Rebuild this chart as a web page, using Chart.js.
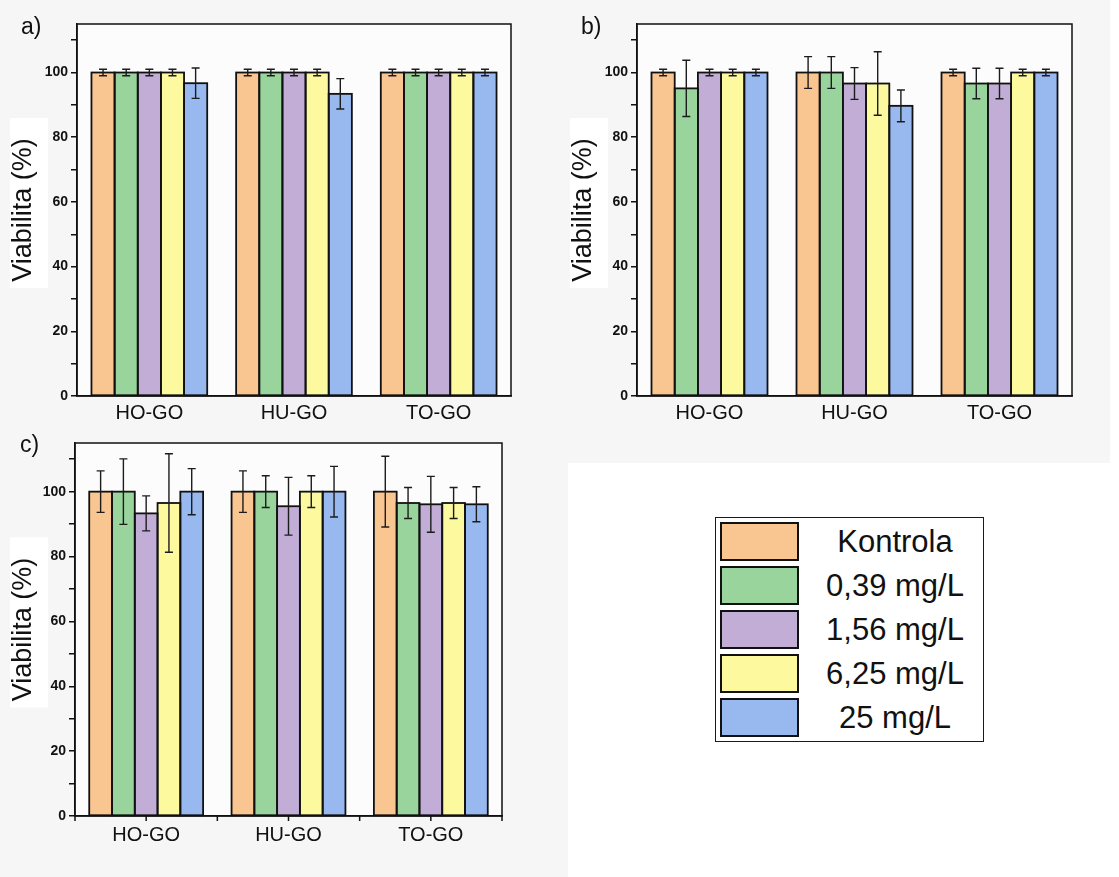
<!DOCTYPE html>
<html lang="cs">
<head>
<meta charset="UTF-8">
<title>Viabilita buněk – HO-GO, HU-GO, TO-GO</title>
<script src="https://cdn.jsdelivr.net/npm/chart.js"></script>
<style>
  body { margin: 0; background: #fff; font-family: "Liberation Sans", Arial, sans-serif; }
  #page { position: relative; width: 1119px; height: 877px; overflow: hidden; }
  .panel { position: absolute; }
  .panel canvas { display: block; }
  .tag { position: absolute; font-size: 23px; line-height: 23px; color: #111; }
  #legendBox { position: absolute; left: 715px; top: 517px; width: 269px; height: 225px;
               box-sizing: border-box; border: 1.5px solid #1a1a1a; background: #fff; }
  .sw { position: absolute; width: 79px; height: 39px; box-sizing: border-box; border: 2px solid #111; }
  .lt { position: absolute; left: 800px; width: 190px; text-align: center;
        font-size: 31px; line-height: 36px; color: #111; }
</style>
</head>
<body>
<div id="page">
  <div class="panel" style="left:0;top:0"><canvas id="chartA" width="560" height="425"></canvas></div>
  <div class="panel" style="left:560px;top:0"><canvas id="chartB" width="550" height="463"></canvas></div>
  <div class="panel" style="left:0;top:425px"><canvas id="chartC" width="568" height="452"></canvas></div>
  <div class="tag" style="left:21px;top:15px">a)</div>
  <div class="tag" style="left:581px;top:15px">b)</div>
  <div class="tag" style="left:20px;top:433px">c)</div>
  <div id="legendBox"></div>
</div>

<script>
const groups = ["HO-GO", "HU-GO", "TO-GO"];
const doses = ["Kontrola", "0,39 mg/L", "1,56 mg/L", "6,25 mg/L", "25 mg/L"];
const doseColors = ["#f9c691", "#98d49b", "#c1add5", "#fcf99f", "#98b8f0"];
const yTicks = [0, 20, 40, 60, 80, 100];

// a) one row per dose, one value per group
const viabA = [
  [100, 100, 100],
  [100, 100, 100],
  [100, 100, 100],
  [100, 100, 100],
  [96.7, 93.4, 100]
];
const errA = [
  [1, 1, 1],
  [1, 1, 1],
  [1, 1, 1],
  [1, 1, 1],
  [4.7, 4.7, 1]
];

// b)
const viabB = [
  [100, 100, 100],
  [95.1, 100, 96.6],
  [100, 96.6, 96.6],
  [100, 96.6, 100],
  [100, 89.7, 100]
];
const errB = [
  [1, 4.9, 1],
  [8.7, 4.9, 4.7],
  [1, 4.9, 4.7],
  [1, 9.8, 1],
  [1, 4.9, 1]
];

// c)
const viabC = [
  [100, 100, 100],
  [100, 100, 96.5],
  [93.3, 95.5, 96.1],
  [96.5, 100, 96.5],
  [100, 100, 96.1]
];
const errC = [
  [6.4, 6.4, 10.9],
  [10.1, 4.9, 4.8],
  [5.4, 8.9, 8.6],
  [15.2, 4.9, 4.8],
  [7.1, 7.8, 5.4]
];

const FONT = '"Liberation Sans", Arial, sans-serif';

// panel background, white plot area and the white patch behind the y title
const panelBg = {
  id: 'panelBg',
  beforeDraw(chart) {
    const { ctx, chartArea: a } = chart;
    ctx.save();
    ctx.fillStyle = '#f6f6f6';
    ctx.fillRect(0, 0, chart.width, chart.height);
    ctx.fillStyle = '#fcfcfc';
    ctx.fillRect(a.left, a.top, a.right - a.left, a.bottom - a.top);
    const mid = (a.top + a.bottom) / 2;
    ctx.fillStyle = '#ffffff';
    ctx.fillRect(10, mid - 92, 38, 170);
    ctx.restore();
  }
};

// bar outlines (shared edge between neighbours) and error bars with caps
const errorBars = {
  id: 'errorBars',
  afterDatasetsDraw(chart) {
    const ctx = chart.ctx, y = chart.scales.y;
    ctx.save();
    ctx.strokeStyle = '#111';
    ctx.lineWidth = 1.8;
    chart.data.datasets.forEach((ds, i) => {
      chart.getDatasetMeta(i).data.forEach(bar => {
        const top = Math.min(bar.y, bar.base);
        ctx.strokeRect(bar.x - bar.width / 2, top, bar.width, Math.abs(bar.base - bar.y));
      });
    });
    ctx.strokeStyle = '#1c1c1c';
    ctx.lineWidth = 1.4;
    chart.data.datasets.forEach((ds, i) => {
      chart.getDatasetMeta(i).data.forEach((bar, j) => {
        const v = ds.data[j], e = ds.errors[j];
        const yt = y.getPixelForValue(v + e), yb = y.getPixelForValue(v - e);
        const x = bar.x;
        ctx.beginPath();
        ctx.moveTo(x, yt); ctx.lineTo(x, yb);
        ctx.moveTo(x - 4, yt); ctx.lineTo(x + 4, yt);
        ctx.moveTo(x - 4, yb); ctx.lineTo(x + 4, yb);
        ctx.stroke();
      });
    });
    ctx.restore();
  }
};

// closed frame round the plot, plus optional ticks on the category axis
const frame = {
  id: 'frame',
  afterDraw(chart, args, opts) {
    const { ctx, chartArea: a } = chart;
    ctx.save();
    ctx.strokeStyle = '#111';
    ctx.lineWidth = 1.5;
    ctx.strokeRect(a.left, a.top, a.right - a.left, a.bottom - a.top);
    if (opts.xTicks) {
      const x = chart.scales.x;
      ctx.beginPath();
      for (let i = 0; i <= groups.length; i++) {
        const px = x.getPixelForValue(i - 0.5);
        ctx.moveTo(px, a.bottom); ctx.lineTo(px, a.bottom + 5);
      }
      groups.forEach((g, i) => {
        const px = x.getPixelForValue(i);
        ctx.moveTo(px, a.bottom); ctx.lineTo(px, a.bottom + 5);
      });
      ctx.stroke();
    }
    ctx.restore();
  }
};

function makePanel(id, values, errors, pad, axisW, axisH, labelPad, xTicks) {
  new Chart(document.getElementById(id), {
    type: 'bar',
    data: {
      labels: groups,
      datasets: doses.map((d, i) => ({
        label: d,
        data: values[i],
        errors: errors[i],
        backgroundColor: doseColors[i],
        borderWidth: 0,
        categoryPercentage: 0.8,
        barPercentage: 1.0
      }))
    },
    options: {
      responsive: false,
      animation: false,
      layout: { padding: pad },
      plugins: {
        legend: { display: false },
        tooltip: { enabled: false },
        frame: { xTicks: xTicks }
      },
      scales: {
        x: {
          grid: { display: false, drawTicks: false },
          border: { color: '#111', width: 1.5 },
          ticks: { color: '#111', padding: labelPad, font: { family: FONT, size: 20 } },
          afterFit: s => { s.height = axisH; }
        },
        y: {
          min: 0,
          max: 115,
          afterBuildTicks: s => {
            // minor ticks every 10, labels only at the major values
            const t = [];
            for (let v = 0; v <= 110; v += 10) t.push({ value: v });
            s.ticks = t;
          },
          grid: { drawOnChartArea: false, drawTicks: true, tickLength: 6, color: '#111', lineWidth: 1.5 },
          border: { color: '#111', width: 1.5 },
          ticks: {
            color: '#111',
            padding: 3,
            font: { family: FONT, size: 14, weight: 'bold' },
            callback: v => yTicks.includes(v) ? String(v) : ''
          },
          title: {
            display: true,
            text: 'Viabilita (%)',
            color: '#111',
            padding: { top: 7, bottom: 0 },
            font: { family: FONT, size: 27 }
          },
          afterFit: s => { s.width = axisW; }
        }
      }
    },
    plugins: [panelBg, errorBars, frame]
  });
}

makePanel('chartA', viabA, errA, { left: 0, top: 24, right: 49, bottom: 0 }, 77, 29, 5, false);
makePanel('chartB', viabB, errB, { left: 0, top: 24, right: 38, bottom: 0 }, 77, 67, 5, false);
makePanel('chartC', viabC, errC, { left: 0, top: 18, right: 66, bottom: 0 }, 75, 61, 7, true);

// shared legend
const box = document.getElementById('page');
doses.forEach((d, i) => {
  const top = 522 + 44 * i;
  const sw = document.createElement('div');
  sw.className = 'sw';
  sw.style.left = '720px';
  sw.style.top = top + 'px';
  sw.style.background = doseColors[i];
  box.appendChild(sw);
  const t = document.createElement('div');
  t.className = 'lt';
  t.style.top = (top + 19.5 - 18) + 'px';
  t.textContent = d;
  box.appendChild(t);
});
</script>
</body>
</html>
